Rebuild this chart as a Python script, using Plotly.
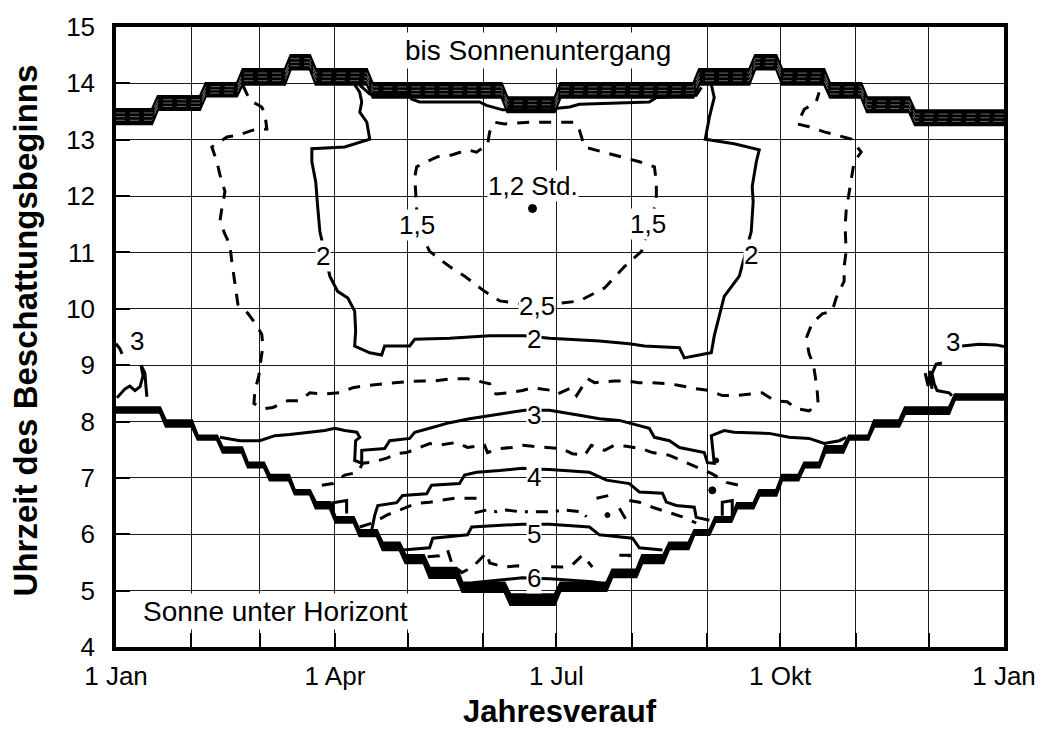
import plotly.graph_objects as go

# ---------------- axis data ----------------
month_days = [0, 31, 59, 90, 120, 151, 181, 212, 243, 273, 304, 334, 365]
month_labels = ["1 Jan", "", "", "1 Apr", "", "", "1 Jul", "", "", "1 Okt", "", "", "1 Jan"]
hour_ticks = list(range(4, 16))

# ---------------- sunset band (bis Sonnenuntergang) ----------------
sunset_edges = [0, 16.0, 35.7, 50.9, 70.6, 80.9, 104.3, 159.7, 181.5, 238.5, 261.5, 272.6, 292.3, 307.5, 327.2, 365]
sunset_top = [13.54, 13.77, 14.0, 14.25, 14.5, 14.25, 14.0, 13.75, 14.0, 14.25, 14.5, 14.25, 14.0, 13.75, 13.52]
sunset_bottom = [13.28, 13.53, 13.77, 13.98, 14.25, 13.98, 13.75, 13.49, 13.75, 13.98, 14.25, 13.98, 13.75, 13.49, 13.26]

# ---------------- sunrise band (Sonne unter Horizont) ----------------
sunrise_edges = [0, 19.3, 32.4, 42.7, 53.0, 62.0, 72.3, 80.9, 89.1, 98.9, 108.4, 117.8, 127.7, 141.2, 160.9, 181.5,
                 202.8, 215.1, 226.2, 236.5, 245.1, 254.1, 263.2, 272.6, 281.7, 290.3, 300.1, 310.4, 323.1, 343.6, 365]
sunrise_top = [8.25, 8.02, 7.75, 7.54, 7.27, 7.05, 6.78, 6.57, 6.30, 6.07, 5.85, 5.63, 5.40, 5.14, 4.93,
               5.14, 5.37, 5.63, 5.85, 6.07, 6.30, 6.55, 6.78, 7.05, 7.27, 7.56, 7.75, 8.02, 8.25, 8.48]
sunrise_bottom = [8.16, 7.91, 7.68, 7.45, 7.19, 6.96, 6.71, 6.46, 6.21, 5.97, 5.72, 5.49, 5.23, 4.98, 4.75,
                  5.0, 5.24, 5.49, 5.74, 5.99, 6.22, 6.46, 6.69, 6.96, 7.19, 7.45, 7.68, 7.91, 8.14, 8.39]

# ---------------- contour "3" at year ends (solid) ----------------
c3_left_day = [0, 1.6, 2.5, None, 0.4, 3.7, 5.7, 7.8, 9.9, 11.1, 10.3, 11.9, 12.3, 12.7]
c3_left_hour = [9.38, 9.29, 9.2, None, 8.42, 8.58, 8.63, 8.55, 8.62, 8.81, 9.0, 8.86, 8.63, 8.44]
c3_right_day = [347.8, 354.8, 361.7, 365, None, 339.5, 337.1, 335.4, 336.3, 337.5, 342.4, 343.6, None,
                332.6, 333.8, 334.6, 335.4]
c3_right_hour = [9.34, 9.37, 9.36, 9.33, None, 9.04, 9.02, 8.85, 8.67, 8.55, 8.51, 8.46, None,
                 8.86, 8.63, 8.90, 8.58]

# ---------------- outer dashed loop ----------------
c2o_day = [52.1, 55.0, 59.9, 61.2, 62.0, 56.2, 50.1, 45.6, 39.4, 41.5, 42.7, 44.8, 43.5, 42.7, 44.8,
           46.8, 47.6, 48.9, 50.1, 54.2, 57.1, 59.9, 60.4, 59.5, 58.7, 57.1, 56.7, 61.2, 64.5, 70.6,
           75.5, 79.7, 85.0, 92.0, 97.3, 103.1, 109.6, 114.6, 119.9, 126.0, 131.0, 138.4, 144.5, 148.6, 153.6,
           154.8, 156.4, 160.9, 167.1, 171.2, 179.4, 181.5, 187.2, 189.3, 193.8, 196.7, 204.9, 209.8, 215.1, 220.5,
           227.5, 231.6, 238.5, 243.9, 249.2, 255.0, 260.3, 265.6, 270.6, 275.9, 279.6, 284.9, 288.6, 288.2, 287.4,
           286.6, 284.9, 283.7, 286.2, 290.3, 294.4, 296.0, 299.3, 299.3, 300.1, 299.7, 300.1, 301.4, 302.6, 303.4,
           306.3, 302.2, 296.4, 291.1, 284.9, 280.0, 282.9, 287.8, 289.0]
c2o_hour = [13.97, 13.70, 13.58, 13.46, 13.19, 13.17, 13.08, 13.05, 12.87, 12.61, 12.38, 12.08, 11.78, 11.55, 11.32,
            11.14, 10.84, 10.44, 10.08, 9.92, 9.75, 9.55, 9.34, 9.08, 8.81, 8.55, 8.32, 8.23, 8.25, 8.37,
            8.37, 8.51, 8.49, 8.51, 8.60, 8.64, 8.67, 8.69, 8.71, 8.72, 8.72, 8.76, 8.76, 8.72, 8.67,
            8.51, 8.49, 8.51, 8.55, 8.60, 8.55, 8.49, 8.60, 8.46, 8.76, 8.69, 8.72, 8.72, 8.69, 8.69,
            8.67, 8.64, 8.58, 8.55, 8.46, 8.46, 8.49, 8.51, 8.37, 8.35, 8.23, 8.19, 8.32, 8.55, 8.81,
            9.02, 9.20, 9.48, 9.75, 9.91, 9.96, 10.19, 10.49, 10.75, 11.02, 11.46, 11.73, 12.08, 12.43, 12.61,
            12.78, 13.01, 13.08, 13.14, 13.23, 13.28, 13.54, 13.67, 13.84]

# ---------------- contour "2" (solid) ----------------
c2_day = [98.1, 100.2, 101.0, 100.2, 103.1, 104.3, 94.0, 80.5, 80.5, 82.1, 82.9, 83.8, 87.9, 91.1, 95.3,
          98.1, 98.5, 98.1, 104.3, 109.2, 110.4, 120.7, 122.8, 137.1, 153.6, 167.9, 178.2, 198.7, 211.0, 217.2,
          231.6, 233.6, 241.8, 244.7, 245.9, 247.2, 250.0, 256.2, 261.1, 261.9, 261.5, 263.2, 264.4, 254.1, 242.2,
          243.9, 245.9, 244.7]
c2_hour = [13.98, 13.84, 13.67, 13.49, 13.31, 13.01, 12.87, 12.84, 12.61, 12.25, 11.81, 11.37, 10.58, 10.31, 10.19,
           9.96, 9.61, 9.34, 9.22, 9.18, 9.34, 9.34, 9.46, 9.48, 9.52, 9.52, 9.48, 9.43, 9.38, 9.34,
           9.31, 9.13, 9.20, 9.22, 9.52, 9.75, 10.22, 10.58, 11.37, 11.90, 12.17, 12.61, 12.82, 12.93, 13.01,
           13.40, 13.75, 13.98]
c2_top_day = [100.2, 104.3, 120.7, 121.5, 124.8, 149.4, 152.3, 158.9, 178.2, 181.5, 186.4, 190.5, 219.2, 222.1, 238.5, 240.6]
c2_top_hour = [13.97, 13.81, 13.81, 13.72, 13.67, 13.67, 13.61, 13.53, 13.53, 13.56, 13.58, 13.63, 13.67, 13.75, 13.79, 13.93]

# ---------------- inner dashed loop (1,5 / 2,5) ----------------
c15_day = [124.0, 128.9, 137.1, 143.3, 151.5, 157.7, 172.9, 182.3, 190.5, 200.8, 209.0, 216.0, 219.2, 222.1, 222.1,
           221.3, 215.1, 200.8, 192.6, 190.5, 188.5, 182.3, 170.0, 159.7, 155.6, 153.6, 152.7, 148.2, 144.5, 138.0,
           132.2, 127.7, 123.6, 122.8, 123.2, 124.0]
c15_hour = [11.46, 11.02, 10.75, 10.58, 10.31, 10.14, 10.05, 10.10, 10.14, 10.37, 10.75, 11.02, 11.47, 11.90, 12.25,
            12.52, 12.61, 12.78, 12.87, 13.17, 13.31, 13.31, 13.31, 13.28, 13.31, 13.14, 12.91, 12.78, 12.82, 12.73,
            12.70, 12.61, 12.52, 12.34, 12.08, 11.46]

# ---------------- contour "3" (solid, middle) ----------------
c3_day = [42.7, 50.9, 59.1, 65.3, 71.4, 79.7, 85.8, 89.9, 94.0, 99.0, 100.2, 98.5, 98.1, 101.0, 101.0,
          110.4, 112.5, 120.7, 122.8, 128.9, 137.1, 145.3, 153.6, 161.8, 167.9, 172.0, 178.2, 190.5, 198.7, 206.9,
          215.1, 219.2, 221.3, 227.5, 231.6, 241.8, 243.1, 245.9, 244.7, 250.0, 254.1, 268.5, 276.7, 284.9, 291.1,
          297.3, 300.1]
c3_hour = [7.72, 7.66, 7.66, 7.75, 7.77, 7.81, 7.84, 7.88, 7.84, 7.81, 7.72, 7.66, 7.31, 7.26, 7.49,
           7.52, 7.66, 7.70, 7.81, 7.88, 7.98, 8.05, 8.11, 8.16, 8.20, 8.20, 8.20, 8.11, 8.05, 8.02,
           7.93, 7.88, 7.72, 7.66, 7.54, 7.45, 7.27, 7.26, 7.75, 7.84, 7.81, 7.79, 7.72, 7.70, 7.61,
           7.66, 7.72]

# ---------------- dashed between 3 and 4 ----------------
c35_day = [84.6, 89.1, 94.0, 99.4, 101.4, 105.5, 111.3, 115.4, 119.5, 124.8, 128.9, 133.0, 140.0, 144.5, 151.5,
           152.7, 157.7, 162.6, 167.1, 171.2, 178.2, 183.1, 187.6, 192.6, 195.4, 200.8, 204.9, 209.8, 216.0, 220.5,
           227.5, 232.4, 238.9, 244.7, 250.9, 256.2]
c35_hour = [6.87, 6.90, 7.05, 7.10, 7.26, 7.28, 7.35, 7.43, 7.45, 7.54, 7.61, 7.58, 7.63, 7.54, 7.58,
            7.45, 7.52, 7.54, 7.58, 7.56, 7.54, 7.52, 7.43, 7.40, 7.58, 7.49, 7.58, 7.56, 7.52, 7.45,
            7.40, 7.31, 7.19, 7.08, 6.92, 6.87]

# ---------------- contour "4" (solid) ----------------
c4_day = [105.1, 106.3, 107.6, 115.4, 117.8, 127.7, 129.7, 141.2, 143.3, 148.2, 157.7, 167.1, 172.0, 178.2, 194.6,
          201.6, 211.0, 215.1, 224.6, 226.2, 230.3, 237.7, 238.5, 243.9]
c4_hour = [6.07, 6.33, 6.51, 6.56, 6.69, 6.72, 6.87, 6.90, 7.05, 7.10, 7.13, 7.17, 7.16, 7.15, 7.10,
           6.96, 6.90, 6.75, 6.73, 6.57, 6.51, 6.48, 6.30, 6.25]
bracket_day = [89.1, 89.1, 94.8, 94.8, None, 249.2, 249.2, 253.3, 253.3]
bracket_hour = [6.37, 6.56, 6.60, 6.37, None, 6.33, 6.57, 6.60, 6.33]

# ---------------- dashed between 4 and 5 ----------------
c45_day = [100.2, 105.5, 111.3, 116.6, 123.6, 128.9, 134.3, 139.2, 148.2, None,
           197.5, 202.8, None, 206.9, 209.8, None, 211.0, 215.1, 220.5, 226.2, 232.8, 238.5]
c45_hour = [6.13, 6.20, 6.34, 6.43, 6.55, 6.57, 6.60, 6.64, 6.64, None,
            6.64, 6.69, None, 6.46, 6.25, None, 6.60, 6.57, 6.48, 6.40, 6.31, 6.20]
c45dd_day = [147.4, 152.3, 156.4, 160.5, 165.9, 172.9, 179.4, 184.3, 191.3, 193.4]
c45dd_hour = [6.38, 6.43, 6.40, 6.43, 6.40, 6.40, 6.40, 6.43, 6.40, 6.31]

# ---------------- contour "5" (solid) ----------------
c5_day = [117.8, 128.9, 130.2, 144.5, 146.2, 157.7, 167.1, 172.0, 178.2, 194.6, 198.7, 212.3, 215.1, 224.6]
c5_hour = [5.72, 5.76, 5.93, 5.99, 6.13, 6.16, 6.18, 6.18, 6.18, 6.13, 5.99, 5.93, 5.76, 5.72]

# ---------------- dashed between 5 and 6 ----------------
c55_day = [128.1, 133.0, 136.3, 138.0, 142.1, 146.6, 152.3, 153.6, 159.7, 165.1, 172.0, 183.5, 187.6, 191.7, 195.8,
           None, 206.9, 211.0, 211.0]
c55_hour = [5.60, 5.62, 5.72, 5.49, 5.32, 5.42, 5.67, 5.49, 5.42, 5.44, 5.43, 5.42, 5.46, 5.63, 5.42,
            None, 5.63, 5.63, 5.51]

# ---------------- contour "6" (solid) ----------------
c6_day = [146.6, 157.7, 167.1, 172.0, 178.2, 195.8, 202.0]
c6_hour = [5.14, 5.19, 5.23, 5.22, 5.21, 5.16, 5.11]

# ---------------- dots ----------------
dot_day = [171.2, 246.7, 245.1, 202.0]
dot_hour = [11.78, 7.31, 6.78, 6.34]
dot_size = [8, 5, 7, 5]

# ---------------- labels ----------------
label_text = ["1,2 Std.", "1,5", "1,5", "2", "2", "2,5", "2", "3", "3", "3", "4", "5", "6"]
label_day = [171.6, 123.6, 218.8, 85.0, 261.1, 172.9, 172.0, 8.6, 344.1, 172.0, 172.0, 172.0, 172.0]
label_hour = [12.18, 11.48, 11.50, 10.93, 10.95, 10.05, 9.47, 9.43, 9.41, 8.11, 7.01, 6.00, 5.22]

region_text = ["bis Sonnenuntergang", "Sonne unter Horizont"]
region_day = [173.3, 65.7]
region_hour = [14.59, 4.63]

FONT = "Liberation Sans, Arial, sans-serif"
SLANT = 1.2  # half-width (days) of the sloped risers of the staircases


def step_path(edges, levels, slant=0.0):
    xs, ys = [], []
    n = len(levels)
    for i, lv in enumerate(levels):
        x0 = edges[i] + (slant if i > 0 else 0.0)
        x1 = edges[i + 1] - (slant if i < n - 1 else 0.0)
        xs += [x0, x1]
        ys += [lv, lv]
    return xs, ys


fig = go.Figure()


def add_band(edges, top, bottom, n_inner, inner_color):
    tx, ty = step_path(edges, top, SLANT)
    bx, by = step_path(edges, bottom, SLANT)
    fig.add_trace(go.Scatter(x=tx + bx[::-1], y=ty + by[::-1], mode="lines", fill="toself",
                             fillcolor="black", line=dict(color="black", width=2.5),
                             hoverinfo="skip", showlegend=False))
    for k in range(1, n_inner + 1):
        f = k / (n_inner + 1)
        mids = [t - (t - b) * f for t, b in zip(top, bottom)]
        mx, my = step_path(edges, mids, SLANT)
        fig.add_trace(go.Scatter(x=mx, y=my, mode="lines",
                                 line=dict(color=inner_color, width=1, dash="9px,5px"),
                                 hoverinfo="skip", showlegend=False))


add_band(sunset_edges, sunset_top, sunset_bottom, 3, "#6a6a6a")
add_band(sunrise_edges, sunrise_top, sunrise_bottom, 0, "#6a6a6a")

SOLID = dict(color="black", width=3)
DASH = dict(color="black", width=3, dash="12px,10px")


def add_line(xs, ys, style):
    fig.add_trace(go.Scatter(x=xs, y=ys, mode="lines", line=style, connectgaps=False,
                             hoverinfo="skip", showlegend=False))


add_line(c3_left_day, c3_left_hour, SOLID)
add_line(c3_right_day, c3_right_hour, SOLID)
add_line(c2o_day, c2o_hour, DASH)
add_line(c2_day, c2_hour, SOLID)
add_line(c2_top_day, c2_top_hour, SOLID)
add_line(c15_day, c15_hour, DASH)
add_line(c3_day, c3_hour, SOLID)
add_line(c35_day, c35_hour, DASH)
add_line(c4_day, c4_hour, SOLID)
add_line(bracket_day, bracket_hour, SOLID)
add_line(c45_day, c45_hour, DASH)
add_line(c45dd_day, c45dd_hour, dict(color="black", width=3, dash="12px,8px,3px,8px"))
add_line(c5_day, c5_hour, SOLID)
add_line(c55_day, c55_hour, DASH)
add_line(c6_day, c6_hour, SOLID)

fig.add_trace(go.Scatter(x=dot_day, y=dot_hour, mode="markers",
                         marker=dict(color="black", size=dot_size, opacity=1,
                                     line=dict(color="black", width=1)),
                         hoverinfo="skip", showlegend=False))

annotations = []
for t, d, h in zip(label_text, label_day, label_hour):
    annotations.append(dict(x=d, y=h, xref="x", yref="y", text=t, showarrow=False,
                            font=dict(family=FONT, size=26, color="black"),
                            bgcolor="white", borderpad=0, xanchor="center", yanchor="middle"))
for t, d, h in zip(region_text, region_day, region_hour):
    annotations.append(dict(x=d, y=h, xref="x", yref="y", text=t, showarrow=False,
                            font=dict(family=FONT, size=28, color="black"),
                            bgcolor="white", borderpad=2, xanchor="center", yanchor="middle"))

annotations.append(dict(x=-0.1018, y=0.51, xref="paper", yref="paper", textangle=-90,
                        text="<b>Uhrzeit des Beschattungsbeginns</b>", showarrow=False,
                        font=dict(family=FONT, size=33, color="black"),
                        xanchor="center", yanchor="middle"))
annotations.append(dict(x=0.50, y=-0.104, xref="paper", yref="paper",
                        text="<b>Jahresverauf</b>", showarrow=False,
                        font=dict(family=FONT, size=31, color="black"),
                        xanchor="center", yanchor="middle"))

fig.update_layout(
    width=1048, height=749,
    margin=dict(l=116, r=43, t=24, b=102),
    paper_bgcolor="white", plot_bgcolor="white",
    font=dict(family=FONT, size=26, color="black"),
    annotations=annotations,
    showlegend=False,
)
fig.update_xaxes(range=[0, 365], tickmode="array", tickvals=month_days, ticktext=month_labels,
                 ticks="inside", ticklen=14, tickwidth=2, tickcolor="black",
                 showgrid=True, gridcolor="#1a1a1a", gridwidth=1,
                 showline=True, linecolor="black", linewidth=3.5, mirror=True,
                 zeroline=False, ticklabelstandoff=3,
                 tickfont=dict(family=FONT, size=26, color="black"))
fig.update_yaxes(range=[4, 15], tickmode="array", tickvals=hour_ticks,
                 ticks="inside", ticklen=14, tickwidth=2, tickcolor="black",
                 showgrid=True, gridcolor="#1a1a1a", gridwidth=1,
                 showline=True, linecolor="black", linewidth=3.5, mirror=True,
                 zeroline=False, ticklabelstandoff=12,
                 tickfont=dict(family=FONT, size=26, color="black"))

fig.write_html("out.html", config={"displayModeBar": False},
               post_script="document.body.style.margin='0';document.body.style.overflow='hidden';")
